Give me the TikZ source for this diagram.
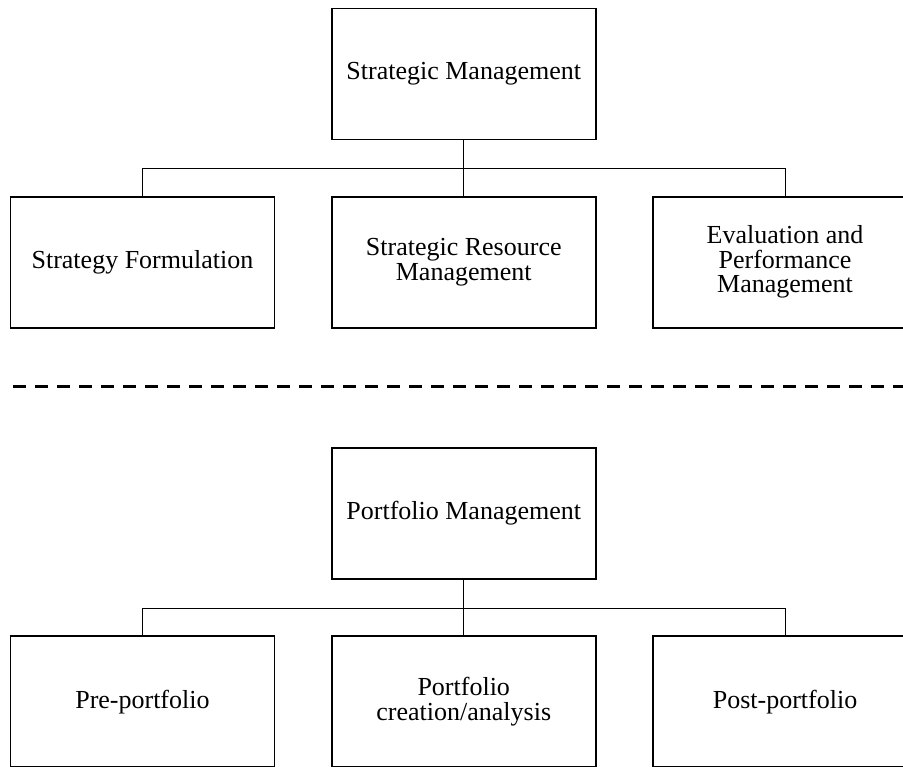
\documentclass[tikz,border=0pt]{standalone}
\usepackage{fontspec}
\setmainfont{Liberation Serif}
\usepackage{tikz}
\usetikzlibrary{matrix}

\begin{document}
\begin{tikzpicture}[
			     box/.style={draw, line width=1.8pt, anchor=center, align=center,
			       minimum width=264pt, minimum height=131pt, inner sep=2pt, outer sep=0pt,
			       font=\fontsize{26}{24.5}\selectfont},
			     link/.style={line width=1.1pt},
			     divider/.style={line width=3pt, dash pattern=on 13pt off 9pt}
			     ]
\path[use as bounding box, clip] (0,0) rectangle (903pt,-767pt);
\matrix (m) [matrix anchor=north, inner sep=0pt, outer sep=0pt,
             row sep=55.5pt, column sep=55.5pt] at (463.75pt,-7.5pt) {%
& \node[box] (sm) {Strategic Management}; & \\
\node[box] (sf) {Strategy Formulation}; & \node[box] (srm) {Strategic Resource\\Management}; & \node[box] (epm) {Evaluation and\\Performance\\Management}; \\[63pt]
& \node[box] (pm) {Portfolio Management}; & \\
\node[box] (pre) {Pre-portfolio}; & \node[box] (pca) {Portfolio\\creation/analysis}; & \node[box] (post) {Post-portfolio}; \\
};
% strategic level
\draw[link] (sm.south) -- (srm.north);
\draw[link] (sf.north) -- ++(0,28pt) -| (epm.north);
% separation between the two levels
\draw[divider] (13pt,-387pt) -- (903pt,-387pt);
% portfolio level
\draw[link] (pm.south) -- (pca.north);
\draw[link] (pre.north) -- ++(0,28pt) -| (post.north);
\end{tikzpicture}
\end{document}
